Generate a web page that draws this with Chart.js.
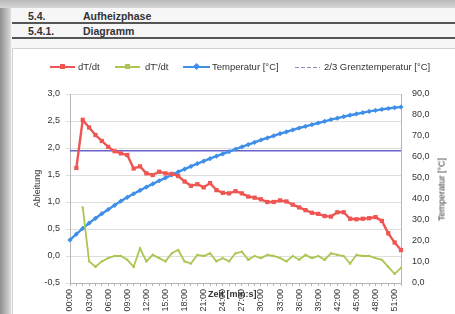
<!DOCTYPE html>
<html><head><meta charset="utf-8">
<script src="https://cdn.jsdelivr.net/npm/chart.js@4.4.1/dist/chart.umd.min.js"></script>
<style>
html,body{margin:0;padding:0;width:455px;height:314px;overflow:hidden;background:#cfcfcf;font-family:"Liberation Sans",Arial,sans-serif;}
#strip{position:absolute;left:0;top:0;width:11px;height:314px;background:linear-gradient(to right,#8f8f8f,#c4c4c4 70%,#dedede);}
#topband{position:absolute;left:0;top:0;width:455px;height:8px;background:linear-gradient(to bottom,#b9b9b9,#d6d6d6);}
#page{position:absolute;left:11px;top:8px;width:444px;height:306px;background:#f6f6f6;}
.hl{position:absolute;left:12px;width:443px;height:2px;background:#555;}
.ht{position:absolute;font-weight:bold;font-size:10.5px;color:#333;white-space:nowrap;}
#box{position:absolute;left:12px;top:48px;width:443px;height:266px;background:#fff;border-top:1px solid #d2d2d2;border-left:1px solid #d2d2d2;box-sizing:border-box;}
#wrap{position:absolute;left:12px;top:50px;width:443px;height:264px;}
.lg{position:absolute;top:62px;height:10px;font-size:9.5px;color:#333;white-space:nowrap;line-height:10px;}
.ln{position:absolute;top:66px;height:2px;}
.mk{position:absolute;}
#xt{position:absolute;left:208px;top:289px;font-size:9px;font-weight:bold;color:#333;white-space:nowrap;}
#rt{position:absolute;left:392px;top:184px;width:100px;text-align:center;font-size:9px;color:#333;white-space:nowrap;transform:rotate(-90deg);line-height:11px;}
</style></head>
<body>
<div id="strip"></div><div id="topband"></div><div id="page"></div>
<div class="ht" style="left:28px;top:10px">5.4.</div>
<div class="ht" style="left:83px;top:10px">Aufheizphase</div>
<div class="hl" style="top:22px"></div>
<div class="ht" style="left:28px;top:25px">5.4.1.</div>
<div class="ht" style="left:83px;top:25px">Diagramm</div>
<div class="hl" style="top:37px"></div>
<div id="box"></div>
<div id="wrap"><canvas id="c" width="443" height="264"></canvas></div>

<div class="ln" style="left:50px;width:25px;background:#ee5553"></div>
<div class="mk" style="left:60px;top:64px;width:5px;height:5px;background:#ee5553"></div>
<div class="lg" style="left:78px">dT/dt</div>
<div class="ln" style="left:115px;width:25px;background:#abc653"></div>
<div class="mk" style="left:125px;top:64px;width:5px;height:5px;background:#abc653"></div>
<div class="lg" style="left:145px">dT'/dt</div>
<div class="ln" style="left:183px;width:27px;background:#3f8fe8"></div>
<div class="mk" style="left:194px;top:64px;width:5px;height:5px;background:#3f8fe8;transform:rotate(45deg)"></div>
<div class="lg" style="left:212px">Temperatur [°C]</div>
<div class="ln" style="left:295px;width:25px;height:1px;top:67px;background:repeating-linear-gradient(to right,#8a86b8 0,#8a86b8 4px,transparent 4px,transparent 6px)"></div>
<div class="lg" style="left:324px">2/3 Grenztemperatur [°C]</div>
<div id="xt">Zeit [min:s]</div>
<div id="rt">Temperatur [°C]</div>

<script>
const timeLabels = ["00:00","01:00","02:00","03:00","04:00","05:00","06:00","07:00","08:00","09:00",
"10:00","11:00","12:00","13:00","14:00","15:00","16:00","17:00","18:00","19:00",
"20:00","21:00","22:00","23:00","24:00","25:00","26:00","27:00","28:00","29:00",
"30:00","31:00","32:00","33:00","34:00","35:00","36:00","37:00","38:00","39:00",
"40:00","41:00","42:00","43:00","44:00","45:00","46:00","47:00","48:00","49:00",
"50:00","51:00","52:00"];

const dTdt = [null,1.63,2.52,2.38,2.24,2.13,2.02,1.94,1.90,1.87,
1.62,1.66,1.53,1.50,1.56,1.53,1.52,1.48,1.38,1.30,
1.33,1.27,1.35,1.22,1.17,1.16,1.20,1.16,1.10,1.08,
1.05,1.00,1.00,1.03,1.01,0.95,0.90,0.85,0.80,0.78,
0.74,0.73,0.81,0.81,0.69,0.68,0.69,0.70,0.72,0.65,
0.42,0.25,0.11];

const dT2dt = [null,null,0.90,-0.10,-0.20,-0.10,-0.04,0.00,0.00,-0.07,
-0.20,0.14,-0.10,0.02,-0.04,-0.10,0.05,0.11,-0.10,-0.14,
0.02,0.00,0.05,-0.10,-0.04,-0.10,0.05,0.08,-0.07,0.00,
-0.04,0.02,0.00,-0.04,-0.10,0.00,-0.07,0.02,-0.04,0.00,
-0.07,0.05,0.02,0.00,-0.14,0.02,0.00,0.00,-0.04,-0.07,
-0.20,-0.33,-0.22];

const temperatur = [20.5,23.3,26.0,28.5,30.8,33.0,35.0,37.0,39.0,40.8,
42.5,44.1,45.7,47.2,48.7,50.1,51.5,52.9,54.2,55.5,
56.8,58.0,59.2,60.4,61.5,62.6,63.7,64.8,65.9,67.0,
68.1,69.1,70.1,71.1,72.0,72.9,73.8,74.6,75.4,76.2,
77.0,77.8,78.5,79.2,79.9,80.5,81.1,81.7,82.2,82.7,
83.1,83.5,83.8];

const grenztemperatur = [63,63,63,63,63,63,63,63,63,63,
63,63,63,63,63,63,63,63,63,63,
63,63,63,63,63,63,63,63,63,63,
63,63,63,63,63,63,63,63,63,63,
63,63,63,63,63,63,63,63,63,63,
63,63,63];

Chart.defaults.font.family = '"Liberation Sans", Arial, sans-serif';
Chart.defaults.color = '#333';

const fmt = v => v.toFixed(1).replace('.', ',');

new Chart(document.getElementById('c'), {
  type: 'line',
  data: {
    labels: timeLabels,
    datasets: [
      {label:'dT/dt', data:dTdt, yAxisID:'y', borderColor:'#ee5553', backgroundColor:'#ee5553',
       borderWidth:2.4, pointStyle:'rect', pointRadius:3, pointBorderWidth:0, tension:0},
      {label:"dT'/dt", data:dT2dt, yAxisID:'y', borderColor:'#abc653', backgroundColor:'#abc653',
       borderWidth:1.8, pointStyle:'triangle', pointRadius:1.8, pointBorderWidth:0, tension:0},
      {label:'Temperatur [°C]', data:temperatur, yAxisID:'y1', borderColor:'#3f8fe8', backgroundColor:'#3f8fe8',
       borderWidth:2.4, pointStyle:'rectRot', pointRadius:2.6, pointBorderWidth:0, tension:0},
      {label:'2/3 Grenztemperatur [°C]', data:grenztemperatur, yAxisID:'y1', borderColor:'#6a62c8',
       borderWidth:1.5, pointRadius:0, tension:0}
    ]
  },
  options: {
    responsive:false, animation:false,
    layout:{padding:{top:44,left:0,right:0,bottom:0}},
    plugins:{legend:{display:false}, tooltip:{enabled:false}},
    scales:{
      x:{
        offset:false,
        grid:{display:true, drawOnChartArea:false, drawTicks:true, tickLength:3, color:'#b5b5b5'},
        border:{color:'#b5b5b5'},
        ticks:{autoSkip:false, maxRotation:90, minRotation:90, padding:3, font:{size:9}, color:'#333',
          callback:(v,i)=> i%3===0 ? timeLabels[i] : ''},
        afterFit:s=>{s.height=31;}
      },
      y:{
        position:'left', min:-0.5, max:3,
        ticks:{stepSize:0.5, padding:6, font:{size:9}, color:'#333', callback:v=>fmt(v)},
        grid:{color:'#dedede', tickLength:4},
        border:{color:'#b5b5b5'},
        title:{display:true, text:'Ableitung', font:{size:9}, color:'#333', padding:{top:20,bottom:0}},
        afterFit:s=>{s.width=58;}
      },
      y1:{
        position:'right', min:0, max:90,
        ticks:{stepSize:10, padding:11, font:{size:9}, color:'#333', callback:v=>fmt(v)},
        grid:{drawOnChartArea:false, drawTicks:false},
        border:{color:'#b5b5b5'},
        title:{display:false},
        afterFit:s=>{s.width=54;}
      }
    }
  }
});
</script>
</body></html>
